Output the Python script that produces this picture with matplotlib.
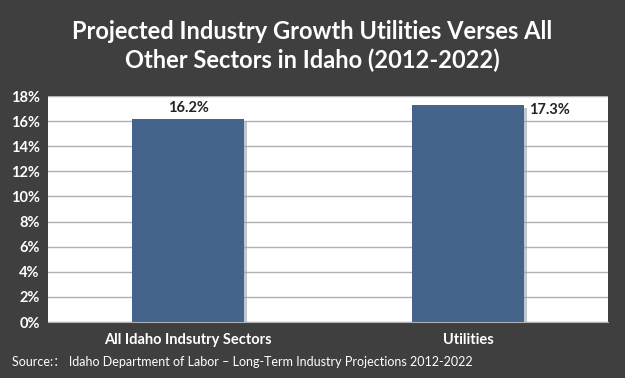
import matplotlib
matplotlib.use("Agg")
import matplotlib.pyplot as plt
import matplotlib.patheffects as pe

categories = ["All Idaho Indsutry Sectors", "Utilities"]
values = [16.2, 17.3]
value_labels = ["16.2%", "17.3%"]
yticks = [0, 2, 4, 6, 8, 10, 12, 14, 16, 18]

plt.rcParams['font.family'] = ['Lato', 'Noto Sans CJK SC', 'DejaVu Sans']
bg = "#3f3f3f"
fig = plt.figure(figsize=(6.25, 3.78), dpi=100, facecolor=bg)
ax = fig.add_axes([48/625, 1-322/378, 560/625, 226/378])
ax.set_facecolor("white")

x = list(range(len(categories)))
bars = ax.bar(x, values, width=0.4, color="#44648c", zorder=3,
              path_effects=[pe.SimplePatchShadow(offset=(2, -2), shadow_rgbFace="#9aa3ad", alpha=0.6), pe.Normal()])
ax.set_xlim(-0.5, 1.5)
ax.set_ylim(0, 18)
ax.set_yticks(yticks)
ax.set_yticklabels([f"{t}%" for t in yticks], color="white", fontsize=10.5, fontweight="bold")
ax.set_xticks(x)
ax.set_xticklabels(categories, color="white", fontsize=10.5, fontweight="bold")
ax.tick_params(axis="y", length=0, pad=6)
ax.tick_params(axis="x", length=0, pad=8)
ax.grid(axis="y", color="#b0b0b0", linewidth=1, zorder=0)
for s in ["top", "right", "left"]:
    ax.spines[s].set_visible(False)
ax.spines["bottom"].set_color("#b0b0b0")

ax.text(x[0], values[0] + 0.3, value_labels[0], ha="center", va="bottom", fontsize=10.5, fontweight="bold", color="#222222")
ax.text(x[1] + 0.29, values[1] - 0.4, value_labels[1], ha="center", va="center", fontsize=10.5, fontweight="bold", color="#222222")

fig.text(0.5, 1-46/378, "Projected Industry Growth Utilities Verses All\nOther Sectors in Idaho (2012-2022)",
         ha="center", va="center", color="white", fontsize=17, fontweight="bold", linespacing=1.3)
fig.text(12/625, 1-362/378, "Source:： Idaho Department of Labor – Long-Term Industry Projections 2012-2022",
         ha="left", va="center", color="white", fontsize=9)

fig.savefig("out.png", dpi=100, facecolor=bg)
